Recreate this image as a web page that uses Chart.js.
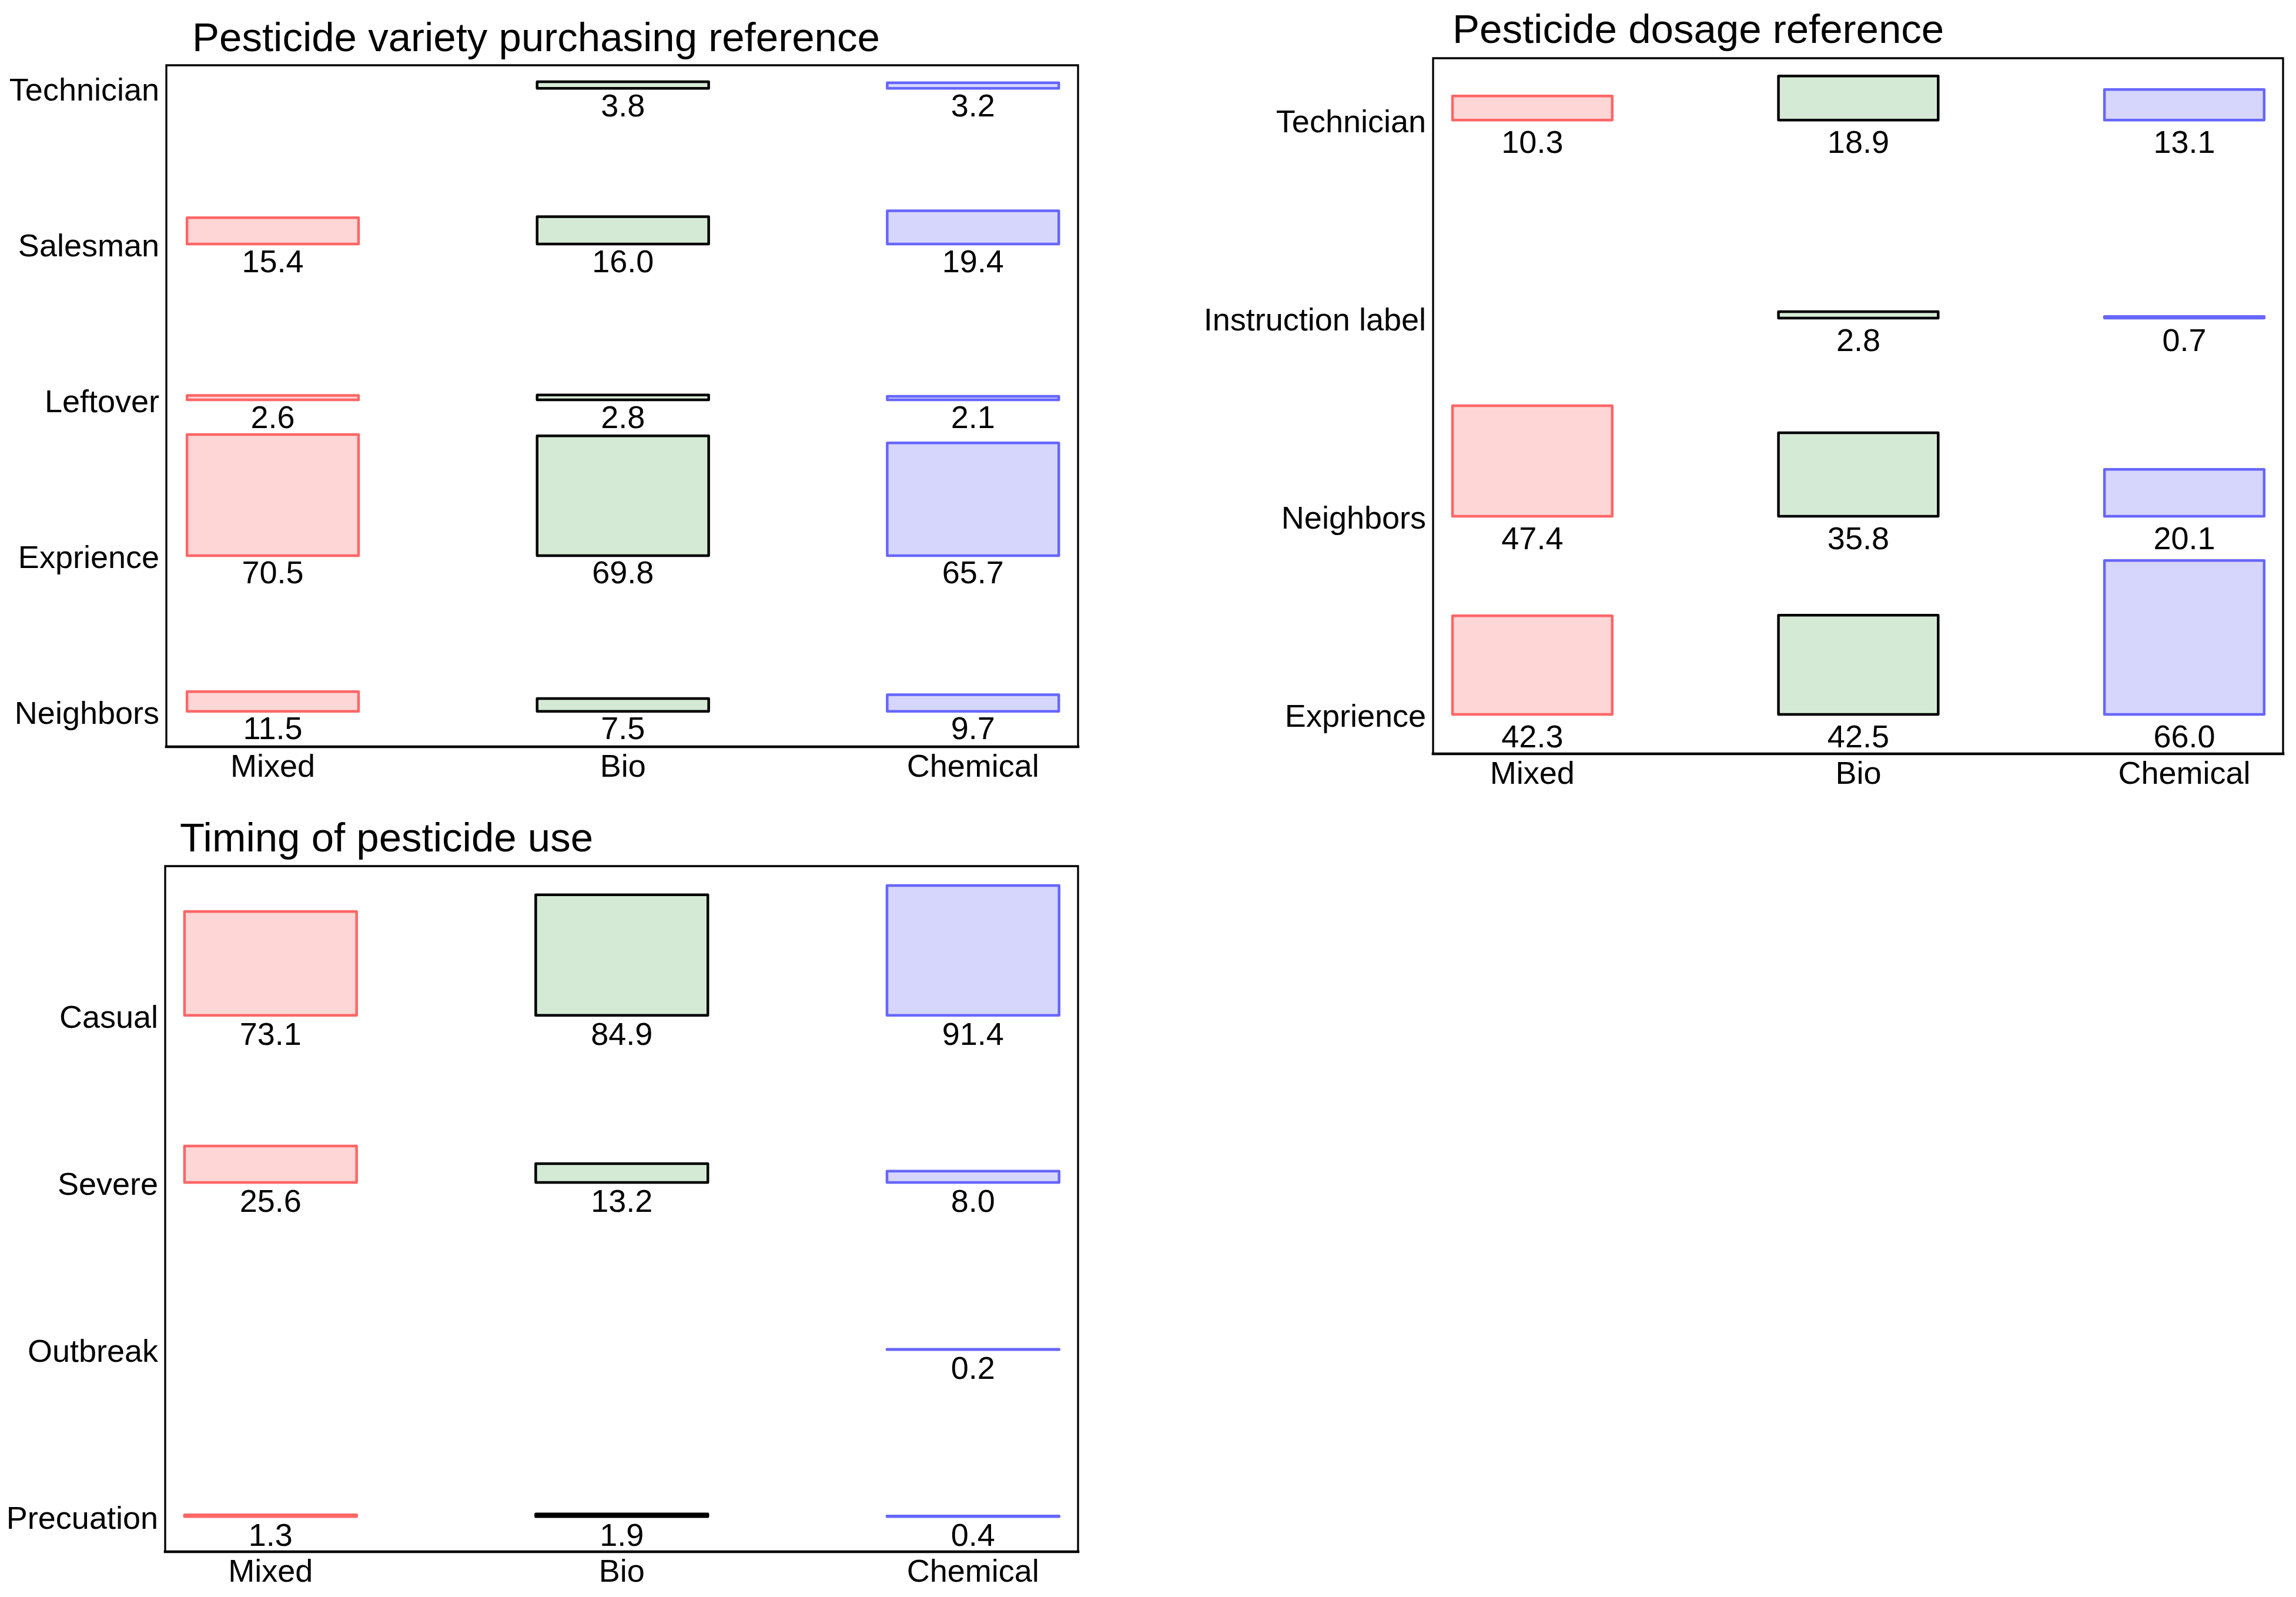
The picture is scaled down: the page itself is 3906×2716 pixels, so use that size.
<!DOCTYPE html>
<html><head><meta charset="utf-8">
<script src="https://cdn.jsdelivr.net/npm/chart.js@4.4.1/dist/chart.umd.min.js"></script>
<style>
html,body{margin:0;padding:0;background:#fff;width:3906px;height:2716px;overflow:hidden}
.panel{position:absolute}
canvas{display:block}
</style></head><body>
<div class="panel" style="left:0;top:0"><canvas id="c1" width="1900" height="1350"></canvas></div>
<div class="panel" style="left:1950px;top:0"><canvas id="c2" width="1956" height="1360"></canvas></div>
<div class="panel" style="left:0;top:1380px"><canvas id="c3" width="1900" height="1336"></canvas></div>
<script>
// ---- data ----
const categories = ['Mixed', 'Bio', 'Chemical'];

const purchaseTitle = 'Pesticide variety purchasing reference';
const purchaseRows = ['Neighbors', 'Exprience', 'Leftover', 'Salesman', 'Technician'];
const purchaseMixed = [11.5, 70.5, 2.6, 15.4, null];
const purchaseBio = [7.5, 69.8, 2.8, 16.0, 3.8];
const purchaseChemical = [9.7, 65.7, 2.1, 19.4, 3.2];

const dosageTitle = 'Pesticide dosage reference';
const dosageRows = ['Exprience', 'Neighbors', 'Instruction label', 'Technician'];
const dosageMixed = [42.3, 47.4, null, 10.3];
const dosageBio = [42.5, 35.8, 2.8, 18.9];
const dosageChemical = [66.0, 20.1, 0.7, 13.1];

const timingTitle = 'Timing of pesticide use';
const timingRows = ['Precuation', 'Outbreak', 'Severe', 'Casual'];
const timingMixed = [1.3, null, 25.6, 73.1];
const timingBio = [1.9, null, 13.2, 84.9];
const timingChemical = [0.4, 0.2, 8.0, 91.4];

// ---- styling ----
const FONT = "'Liberation Sans', Arial, Helvetica, sans-serif";
const STYLES = [
  { fill: '#ffd6d6', edge: '#ff6666' },
  { fill: '#d5ead5', edge: '#000000' },
  { fill: '#d6d6fc', edge: '#6666ff' }
];
const BAR_FRAC = 0.777;   // tallest bar of a panel, in row units
const LABEL_GAP = 0.123;  // value label centre below the bar base, in row units
const EDGE_W = 4.5;

Chart.defaults.font.family = FONT;
Chart.defaults.font.size = 54;
Chart.defaults.color = '#000';

const outlinePlugin = {
  id: 'outline',
  afterDatasetsDraw(chart) {
    const ctx = chart.ctx;
    ctx.save();
    ctx.lineWidth = EDGE_W;
    ctx.lineJoin = 'round';
    chart.data.datasets.forEach((ds, di) => {
      const meta = chart.getDatasetMeta(di);
      ctx.strokeStyle = ds.edgeColor;
      meta.data.forEach(el => {
        const p = el.getProps(['x', 'y', 'base', 'width'], true);
        ctx.strokeRect(p.x - p.width / 2, Math.min(p.y, p.base), p.width, Math.abs(p.base - p.y));
      });
    });
    ctx.restore();
  }
};

const spinePlugin = {
  id: 'spines',
  afterDatasetsDraw(chart) {
    const { ctx, chartArea: a } = chart;
    ctx.save();
    ctx.strokeStyle = '#000';
    ctx.lineCap = 'square';
    ctx.lineWidth = 3.3;
    ctx.beginPath();
    ctx.moveTo(a.left, a.bottom); ctx.lineTo(a.left, a.top);
    ctx.lineTo(a.right, a.top); ctx.lineTo(a.right, a.bottom);
    ctx.stroke();
    ctx.lineWidth = 4.6;
    ctx.beginPath();
    ctx.moveTo(a.left, a.bottom); ctx.lineTo(a.right, a.bottom);
    ctx.stroke();
    ctx.restore();
  }
};

const valueLabelPlugin = {
  id: 'valueLabels',
  afterDatasetsDraw(chart) {
    const { ctx, scales: { x, y } } = chart;
    ctx.save();
    ctx.fillStyle = '#000';
    ctx.font = '54px ' + FONT;
    ctx.textAlign = 'center';
    ctx.textBaseline = 'middle';
    chart.data.datasets.forEach(ds => {
      ds.data.forEach(d => {
        ctx.fillText(d.v.toFixed(1), x.getPixelForValue(d.x), y.getPixelForValue(d.y[0] - LABEL_GAP));
      });
    });
    ctx.restore();
  }
};

const panelTitlePlugin = {
  id: 'panelTitle',
  afterDraw(chart, args, opts) {
    const { ctx, chartArea: a } = chart;
    ctx.save();
    ctx.fillStyle = '#000';
    ctx.font = '69px ' + FONT;
    ctx.textAlign = 'left';
    ctx.textBaseline = 'alphabetic';
    ctx.fillText(opts.text, a.left + opts.dx, a.top + opts.dy);
    ctx.restore();
  }
};

function makePanel(id, title, rows, series, lay) {
  const all = series.flat().filter(v => v != null);
  const maxVal = Math.max(...all);
  const datasets = series.map((vals, ci) => ({
    label: categories[ci],
    data: vals.map((v, ri) => v == null ? null : { x: ci, y: [ri, ri + v / maxVal * BAR_FRAC], v: v }).filter(Boolean),
    backgroundColor: STYLES[ci].fill,
    edgeColor: STYLES[ci].edge,
    borderWidth: 0,
    inflateAmount: 0,
    grouped: false,
    barPercentage: 0.49,
    categoryPercentage: 1
  }));
  new Chart(document.getElementById(id), {
    type: 'bar',
    data: { datasets },
    plugins: [outlinePlugin, spinePlugin, valueLabelPlugin, panelTitlePlugin],
    options: {
      responsive: false,
      devicePixelRatio: 1,
      animation: false,
      layout: { padding: { top: lay.padTop, right: lay.padRight, left: 0, bottom: 0 } },
      plugins: {
        legend: { display: false },
        tooltip: { enabled: false },
        title: { display: false },
        panelTitle: { text: title, dx: lay.titleDx, dy: lay.titleDy }
      },
      scales: {
        x: {
          type: 'linear',
          offset: false,
          bounds: 'data',
          min: lay.xMin, max: lay.xMax,
          grid: { display: false, drawTicks: false, offset: false },
          border: { display: false },
          ticks: { autoSkip: false, padding: 3.5, font: { size: 54 }, callback: v => categories[v] },
          afterBuildTicks: s => { s.ticks = categories.map((c, i) => ({ value: i })); },
          afterFit: s => { s.height = lay.xHeight; }
        },
        y: {
          type: 'linear',
          offset: false,
          bounds: 'data',
          min: lay.yMin, max: lay.yMax,
          grid: { display: false, drawTicks: false },
          border: { display: false },
          ticks: { autoSkip: false, padding: 12, labelOffset: 6, font: { size: 54 }, callback: v => rows[v] },
          afterBuildTicks: s => { s.ticks = rows.map((r, i) => ({ value: i })); },
          afterFit: s => { s.width = lay.yWidth; }
        }
      }
    }
  });
}

makePanel('c1', purchaseTitle, purchaseRows, [purchaseMixed, purchaseBio, purchaseChemical],
  { padTop: 111, padRight: 66, yWidth: 283, xHeight: 80, yMin: -0.227, yMax: 4.148, xMin: -0.304, xMax: 2.300, titleDx: 44, titleDy: -24 });
makePanel('c2', dosageTitle, dosageRows, [dosageMixed, dosageBio, dosageChemical],
  { padTop: 99, padRight: 22, yWidth: 488, xHeight: 78, yMin: -0.199, yMax: 3.312, xMin: -0.3045, xMax: 2.303, titleDx: 33, titleDy: -26 });
makePanel('c3', timingTitle, timingRows, [timingMixed, timingBio, timingChemical],
  { padTop: 93, padRight: 66, yWidth: 281, xHeight: 77, yMin: -0.21, yMax: 3.893, xMin: -0.300, xMax: 2.299, titleDx: 25, titleDy: -25 });
</script>
</body></html>
